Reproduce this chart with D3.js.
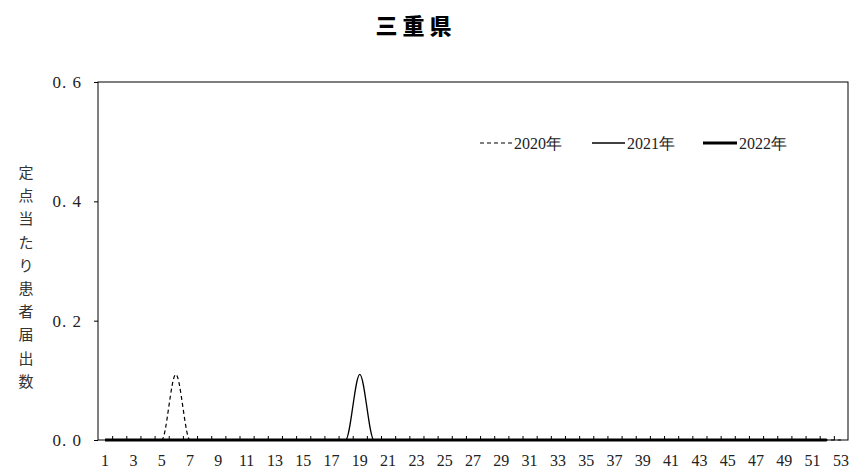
<!DOCTYPE html>
<html><head><meta charset="utf-8">
<script src="https://cdn.jsdelivr.net/npm/d3@7"></script>
<style>body{margin:0;background:#fff}</style>
</head><body>
<svg id="c" width="852" height="471"></svg>
<script>
const title = "三重県";
const yTitle = "定点当たり患者届出数";
const weeks = d3.range(1, 54);
const yTicks = [0, 0.2, 0.4, 0.6];
const seriesNames = ["2020年", "2021年", "2022年"];
const v2020 = [0,0,0,0,0,0.11,0,0,0,0,0,0,0,0,0,0,0,0,0,0,0,0,0,0,0,0,0,0,0,0,0,0,0,0,0,0,0,0,0,0,0,0,0,0,0,0,0,0,0,0,0,0,0];
const v2021 = [0,0,0,0,0,0,0,0,0,0,0,0,0,0,0,0,0,0,0.11,0,0,0,0,0,0,0,0,0,0,0,0,0,0,0,0,0,0,0,0,0,0,0,0,0,0,0,0,0,0,0,0,0];
const v2022 = [0,0,0,0,0,0,0,0,0,0,0,0,0,0,0,0,0,0,0,0,0,0,0,0,0,0,0,0,0,0,0,0,0,0,0,0,0,0,0,0,0,0,0,0,0,0,0,0,0,0,0,0];

const svg = d3.select("#c");
const L = 98, R = 848, T = 82, B = 440;
const x = d3.scaleBand().domain(weeks).range([L, R]);
const xl = d3.scaleLinear().domain([0.5, 53.5]).range([L, R]);
const y = d3.scaleLinear().domain([0, 0.6]).range([B, T]);
const serif = "'Liberation Serif','DejaVu Serif',serif";

svg.append("text").attr("x", 416).attr("y", 34).attr("text-anchor", "middle")
  .style("font-family", "'Noto Sans CJK JP'").style("font-weight", "900").style("font-size", "22px")
  .style("letter-spacing", "5px").text(title);

// plot box
svg.append("rect").attr("x", L).attr("y", T).attr("width", R - L).attr("height", B - T)
  .attr("fill", "none").attr("stroke", "#000").attr("stroke-width", 1);

// y axis
const ya = svg.append("g").attr("transform", `translate(${L},0)`)
  .call(d3.axisLeft(y).tickValues(yTicks).tickSize(4).tickPadding(12)
    .tickFormat(d => d3.format(".1f")(d).replace(".", ". ")));
ya.select(".domain").remove();
ya.selectAll("text").style("font-family", serif).style("font-size", "17px")
  .style("white-space", "pre").style("letter-spacing", "1px").attr("fill", "#222");

// x tick marks (inside, at week boundaries)
const xt = svg.append("g").attr("transform", `translate(0,${B})`)
  .call(d3.axisTop(xl).tickValues(d3.range(1.5, 53, 1)).tickSize(4).tickFormat(""));
xt.select(".domain").remove();

// x labels
const xa = svg.append("g").attr("transform", `translate(0,${B})`)
  .call(d3.axisBottom(x).tickValues(weeks.filter(w => w % 2 === 1)).tickSize(0).tickPadding(15));
xa.select(".domain").remove();
xa.selectAll("text").style("font-family", serif).style("font-size", "16px").attr("fill", "#222");

// y title vertical
const yt = svg.append("text").style("font-family", "'Noto Sans CJK JP'").style("font-size", "15px").attr("fill", "#333");
yTitle.split("").forEach((ch, i) => {
  yt.append("tspan").attr("x", 26).attr("y", 178 + i * 23.2).attr("text-anchor", "middle").text(ch);
});

const line = d3.line().x((d, i) => x(i + 1) + x.bandwidth() / 2).y(d => y(d)).curve(d3.curveMonotoneX);
const styles = [
  {data: v2020, w: 1.2, dash: "4,3"},
  {data: v2021, w: 1.3, dash: null},
  {data: v2022, w: 3, dash: null}
];
styles.forEach(s => {
  svg.append("path").attr("d", line(s.data)).attr("fill", "none").attr("stroke", "#000")
    .attr("stroke-width", s.w).attr("stroke-dasharray", s.dash);
});

// legend
const leg = [{x1: 480, x2: 512, tx: 514}, {x1: 592, x2: 625, tx: 627}, {x1: 703, x2: 737, tx: 739}];
leg.forEach((p, i) => {
  svg.append("line").attr("x1", p.x1).attr("x2", p.x2).attr("y1", 143).attr("y2", 143)
    .attr("stroke", "#000").attr("stroke-width", styles[i].w).attr("stroke-dasharray", styles[i].dash);
  svg.append("text").attr("x", p.tx).attr("y", 149).style("font-family", serif).style("font-size", "16px")
    .attr("fill", "#222").text(seriesNames[i]);
});
</script>
</body></html>
